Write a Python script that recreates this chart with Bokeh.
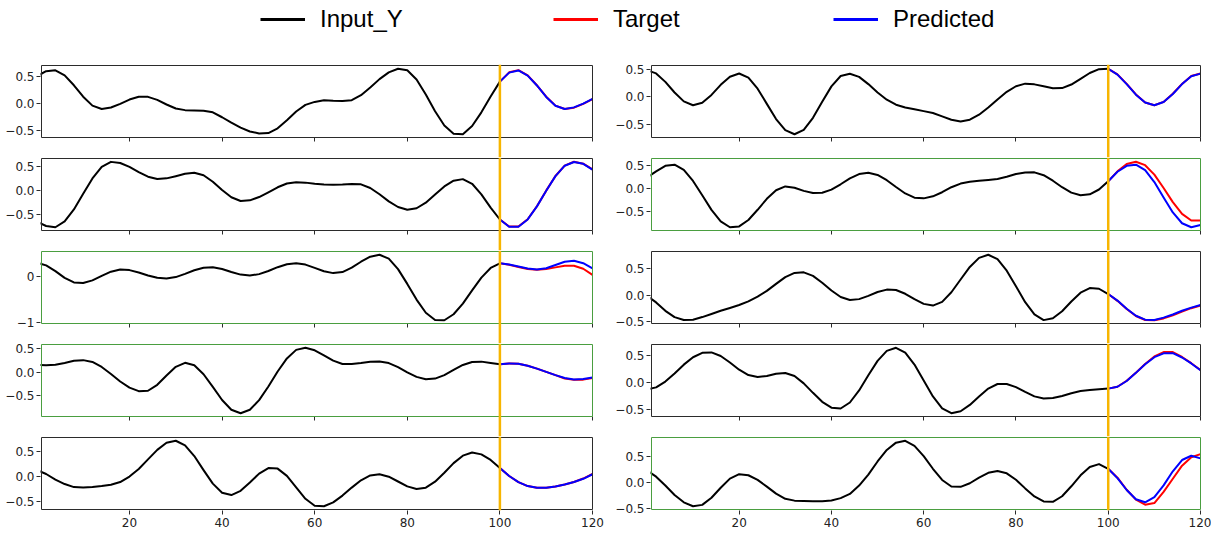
from bokeh.plotting import figure
from bokeh.layouts import column, row
from bokeh.models import (Range1d, FixedTicker, CustomJSTickFormatter, BoxAnnotation,
                          Span, Legend, LegendItem)
from bokeh.core.properties import value
from bokeh.embed import file_html
from bokeh.resources import INLINE

# ---------------- data ----------------
x_in = list(range(0, 101, 2))        # input window
x_out = list(range(100, 121, 2))     # forecast window
x_ticks = [20, 40, 60, 80, 100, 120]
legend_labels = ["Input_Y", "Target", "Predicted"]

l1_input = [0.50, 0.59, 0.606, 0.515, 0.334, 0.125, -0.038, -0.10, -0.073, -0.005, 0.073, 0.123, 0.122, 0.068, -0.017, -0.091, -0.12, -0.125, -0.13, -0.16, -0.25, -0.35, -0.44, -0.51, -0.545, -0.538, -0.452, -0.305, -0.146, -0.025, 0.03, 0.06, 0.05, 0.045, 0.062, 0.153, 0.294, 0.446, 0.57, 0.635, 0.607, 0.44, 0.165, -0.14, -0.40, -0.55, -0.56, -0.41, -0.16, 0.13, 0.40]
l1_target = [0.40, 0.57, 0.61, 0.515, 0.334, 0.125, -0.038, -0.10, -0.075, -0.005, 0.08]
l1_pred = [0.40, 0.565, 0.605, 0.51, 0.33, 0.12, -0.04, -0.10, -0.07, 0.0, 0.085]

l2_input = [-0.66, -0.75, -0.775, -0.655, -0.403, -0.079, 0.243, 0.485, 0.588, 0.565, 0.483, 0.374, 0.279, 0.231, 0.244, 0.29, 0.339, 0.36, 0.309, 0.173, 0.0, -0.151, -0.227, -0.214, -0.146, -0.046, 0.058, 0.136, 0.165, 0.155, 0.13, 0.115, 0.11, 0.115, 0.125, 0.12, 0.043, -0.088, -0.235, -0.353, -0.409, -0.379, -0.263, -0.094, 0.075, 0.195, 0.228, 0.131, -0.09, -0.366, -0.614]
l2_target = [-0.614, -0.761, -0.76, -0.608, -0.338, -0.012, 0.294, 0.511, 0.59, 0.55, 0.43]
l2_pred = [-0.614, -0.765, -0.765, -0.612, -0.34, -0.015, 0.29, 0.508, 0.585, 0.548, 0.428]

l3_input = [0.29, 0.232, 0.109, -0.034, -0.132, -0.145, -0.088, 0.008, 0.098, 0.144, 0.131, 0.081, 0.017, -0.034, -0.049, -0.018, 0.051, 0.128, 0.183, 0.193, 0.156, 0.092, 0.035, 0.015, 0.045, 0.113, 0.194, 0.257, 0.28, 0.25, 0.18, 0.107, 0.067, 0.089, 0.183, 0.311, 0.419, 0.46, 0.379, 0.153, -0.164, -0.501, -0.782, -0.939, -0.943, -0.815, -0.586, -0.304, -0.03, 0.177, 0.276]
l3_target = [0.276, 0.245, 0.20, 0.155, 0.14, 0.155, 0.19, 0.225, 0.225, 0.16, 0.03]
l3_pred = [0.276, 0.25, 0.21, 0.165, 0.145, 0.17, 0.24, 0.31, 0.33, 0.28, 0.17]

l4_input = [0.16, 0.15, 0.16, 0.20, 0.245, 0.26, 0.222, 0.115, -0.034, -0.194, -0.326, -0.40, -0.392, -0.265, -0.066, 0.117, 0.203, 0.15, -0.04, -0.311, -0.589, -0.795, -0.87, -0.797, -0.592, -0.301, 0.018, 0.297, 0.478, 0.523, 0.47, 0.363, 0.249, 0.178, 0.18, 0.20, 0.225, 0.23, 0.198, 0.111, 0.001, -0.096, -0.147, -0.133, -0.058, 0.051, 0.157, 0.221, 0.228, 0.20, 0.17]
l4_target = [0.17, 0.19, 0.185, 0.14, 0.08, 0.01, -0.06, -0.13, -0.16, -0.155, -0.12]
l4_pred = [0.17, 0.19, 0.185, 0.14, 0.08, 0.01, -0.06, -0.12, -0.15, -0.14, -0.11]

l5_input = [0.13, 0.05, -0.06, -0.15, -0.21, -0.22, -0.21, -0.19, -0.165, -0.11, 0.0, 0.15, 0.34, 0.53, 0.67, 0.71, 0.62, 0.407, 0.127, -0.141, -0.322, -0.368, -0.284, -0.118, 0.058, 0.167, 0.157, 0.013, -0.216, -0.442, -0.581, -0.59, -0.514, -0.379, -0.22, -0.075, 0.021, 0.045, -0.003, -0.099, -0.196, -0.248, -0.221, -0.103, 0.076, 0.266, 0.414, 0.478, 0.44, 0.33, 0.17]
l5_target = [0.17, 0.01, -0.11, -0.19, -0.225, -0.225, -0.20, -0.16, -0.11, -0.04, 0.05]
l5_pred = [0.17, 0.01, -0.11, -0.19, -0.225, -0.225, -0.20, -0.16, -0.11, -0.045, 0.045]

r1_input = [0.48, 0.422, 0.27, 0.079, -0.08, -0.15, -0.104, 0.036, 0.216, 0.363, 0.42, 0.347, 0.148, -0.125, -0.398, -0.597, -0.67, -0.591, -0.376, -0.088, 0.189, 0.375, 0.415, 0.36, 0.23, 0.08, -0.05, -0.14, -0.19, -0.22, -0.255, -0.29, -0.35, -0.41, -0.44, -0.409, -0.32, -0.191, -0.045, 0.091, 0.191, 0.238, 0.225, 0.19, 0.155, 0.158, 0.222, 0.324, 0.429, 0.498, 0.505]
r1_target = [0.505, 0.405, 0.233, 0.044, -0.10, -0.15, -0.09, 0.056, 0.233, 0.376, 0.42]
r1_pred = [0.505, 0.40, 0.23, 0.04, -0.10, -0.15, -0.092, 0.052, 0.23, 0.372, 0.418]

r2_input = [0.24, 0.38, 0.50, 0.525, 0.41, 0.168, -0.148, -0.469, -0.721, -0.85, -0.832, -0.69, -0.466, -0.225, -0.036, 0.048, 0.02, -0.05, -0.095, -0.092, -0.023, 0.095, 0.224, 0.319, 0.35, 0.301, 0.185, 0.034, -0.107, -0.20, -0.215, -0.17, -0.08, 0.03, 0.11, 0.15, 0.17, 0.19, 0.21, 0.26, 0.32, 0.355, 0.357, 0.294, 0.173, 0.03, -0.089, -0.147, -0.125, -0.02, 0.16]
r2_target = [0.16, 0.38, 0.54, 0.59, 0.515, 0.307, 0.014, -0.297, -0.556, -0.701, -0.70]
r2_pred = [0.16, 0.37, 0.50, 0.527, 0.406, 0.144, -0.195, -0.525, -0.763, -0.85, -0.80]

r3_input = [-0.01, -0.14, -0.30, -0.42, -0.475, -0.47, -0.42, -0.36, -0.30, -0.245, -0.19, -0.12, -0.03, 0.08, 0.215, 0.344, 0.424, 0.435, 0.366, 0.236, 0.087, -0.036, -0.094, -0.077, -0.015, 0.059, 0.105, 0.097, 0.025, -0.079, -0.168, -0.20, -0.129, 0.054, 0.298, 0.538, 0.711, 0.77, 0.685, 0.467, 0.169, -0.136, -0.37, -0.478, -0.443, -0.308, -0.122, 0.046, 0.134, 0.121, 0.02]
r3_target = [0.02, -0.11, -0.265, -0.40, -0.475, -0.48, -0.445, -0.385, -0.315, -0.25, -0.20]
r3_pred = [0.02, -0.105, -0.26, -0.395, -0.47, -0.475, -0.43, -0.37, -0.30, -0.24, -0.19]

r4_input = [-0.12, -0.082, 0.025, 0.176, 0.338, 0.475, 0.556, 0.564, 0.497, 0.377, 0.245, 0.145, 0.11, 0.13, 0.17, 0.185, 0.128, -0.008, -0.183, -0.349, -0.457, -0.473, -0.362, -0.138, 0.142, 0.408, 0.592, 0.65, 0.559, 0.339, 0.045, -0.249, -0.469, -0.56, -0.523, -0.406, -0.249, -0.104, -0.02, -0.019, -0.077, -0.166, -0.248, -0.289, -0.28, -0.24, -0.19, -0.15, -0.13, -0.115, -0.105]
r4_target = [-0.105, -0.07, 0.04, 0.19, 0.35, 0.49, 0.57, 0.57, 0.48, 0.365, 0.24]
r4_pred = [-0.105, -0.071, 0.036, 0.186, 0.345, 0.476, 0.547, 0.55, 0.47, 0.36, 0.235]

r5_input = [0.23, 0.11, -0.06, -0.24, -0.38, -0.455, -0.429, -0.293, -0.101, 0.073, 0.157, 0.137, 0.048, -0.081, -0.214, -0.314, -0.348, -0.355, -0.36, -0.36, -0.345, -0.30, -0.22, -0.06, 0.15, 0.40, 0.62, 0.76, 0.796, 0.70, 0.502, 0.261, 0.047, -0.078, -0.085, -0.016, 0.09, 0.183, 0.22, 0.174, 0.05, -0.114, -0.267, -0.363, -0.37, -0.264, -0.074, 0.136, 0.295, 0.35, 0.26]
r5_target = [0.26, 0.09, -0.14, -0.33, -0.425, -0.394, -0.18, 0.07, 0.32, 0.48, 0.54]
r5_pred = [0.26, 0.082, -0.145, -0.322, -0.38, -0.282, -0.057, 0.213, 0.428, 0.51, 0.46]

left_green = [False, False, True, True, False]
right_green = [False, True, False, False, True]
left_yticks = [[-0.5, 0, 0.5], [-0.5, 0, 0.5], [-1, 0], [-0.5, 0, 0.5], [-0.5, 0, 0.5]]
right_yticks = [[-0.5, 0, 0.5]] * 5
left_decimals = [1, 1, 0, 1, 1]
right_decimals = [1, 1, 1, 1, 1]

# ---------------- styling ----------------
ORANGE = "#F7B500"
GREEN = "#4A9E40"
DARK = "#2b2b2b"
TICK_FONT = "DejaVu Sans"
TICK_SIZE = "12px"
BOX_H = 72      # visible panel height (px)
GAP_H = 20      # gap below each panel (px) - kept inside the frame
PAD = 1


def y_formatter(decimals):
    return CustomJSTickFormatter(code=f"""
        const s = Math.abs(tick).toFixed({decimals});
        return (tick < -1e-9 ? "\\u2212" : "") + s;
    """)


def make_panel(inp, tgt, prd, green, yticks, decimals, box_w, b_left, b_right, last):
    vals = inp + tgt + prd
    lo0, hi0 = min(vals), max(vals)
    m = 0.05 * (hi0 - lo0)
    lo, hi = lo0 - m, hi0 + m
    s = (hi - lo) / BOX_H
    if last:
        yr = Range1d(lo - PAD * s, hi + PAD * s)
        fh = BOX_H + 2 * PAD
    else:
        yr = Range1d(lo - GAP_H * s, hi + PAD * s)
        fh = PAD + BOX_H + GAP_H
    sx = (x_ticks[-1] - 1) / box_w
    xr = Range1d(1 - PAD * sx, x_ticks[-1] + PAD * sx)

    p = figure(frame_width=box_w + 2 * PAD, frame_height=fh, x_range=xr, y_range=yr,
               output_backend="svg", toolbar_location=None,
               min_border_left=b_left, min_border_right=b_right,
               min_border_top=0, min_border_bottom=0)
    p.outline_line_color = None
    p.xgrid.visible = False
    p.ygrid.visible = False
    p.background_fill_color = "white"
    p.border_fill_color = "white"

    p.line(x_in, inp, line_color="black", line_width=2, line_join="round")
    p.line(x_out, tgt, line_color="red", line_width=2, line_join="round")
    p.line(x_out, prd, line_color="blue", line_width=2, line_join="round")

    box = BoxAnnotation(left=1, right=x_ticks[-1], bottom=lo, top=hi,
                        fill_alpha=0, fill_color=None,
                        line_color=GREEN if green else DARK, line_alpha=1.0, line_width=1)
    p.add_layout(box)
    p.add_layout(Span(location=100, dimension="height", line_color=ORANGE, line_width=2.5))

    ya = p.yaxis[0]
    ya.ticker = FixedTicker(ticks=yticks)
    ya.formatter = y_formatter(decimals)
    ya.axis_line_color = None
    ya.major_tick_in = 0
    ya.major_tick_out = 4
    ya.major_tick_line_color = DARK
    ya.minor_tick_line_color = None
    ya.major_label_text_font = TICK_FONT
    ya.major_label_text_font_size = TICK_SIZE
    ya.major_label_text_color = "#222222"
    ya.major_label_standoff = 2

    xa = p.xaxis[0]
    xa.ticker = FixedTicker(ticks=x_ticks)
    xa.axis_line_color = None
    xa.major_tick_in = 0
    xa.major_tick_out = 4
    xa.major_tick_line_color = DARK
    xa.minor_tick_line_color = None
    xa.major_label_text_font = TICK_FONT
    xa.major_label_text_font_size = TICK_SIZE
    xa.major_label_text_color = "#222222"
    xa.major_label_standoff = 3
    if not last:
        xa.fixed_location = lo
        xa.formatter = CustomJSTickFormatter(code='return "";')
        xa.major_label_text_font_size = "0px"
    return p


left_data = [(l1_input, l1_target, l1_pred), (l2_input, l2_target, l2_pred),
             (l3_input, l3_target, l3_pred), (l4_input, l4_target, l4_pred),
             (l5_input, l5_target, l5_pred)]
right_data = [(r1_input, r1_target, r1_pred), (r2_input, r2_target, r2_pred),
              (r3_input, r3_target, r3_pred), (r4_input, r4_target, r4_pred),
              (r5_input, r5_target, r5_pred)]

left_figs = []
right_figs = []
for k in range(5):
    inp, tgt, prd = left_data[k]
    left_figs.append(make_panel(inp, tgt, prd, left_green[k], left_yticks[k], left_decimals[k],
                                box_w=551, b_left=40, b_right=12, last=(k == 4)))
    inp, tgt, prd = right_data[k]
    right_figs.append(make_panel(inp, tgt, prd, right_green[k], right_yticks[k], right_decimals[k],
                                 box_w=549, b_left=45, b_right=10, last=(k == 4)))

# ---------------- legend strip ----------------
lg = figure(frame_width=1211, frame_height=64, output_backend="svg", toolbar_location=None,
            min_border=0, x_axis_type=None, y_axis_type=None,
            x_range=Range1d(0, 1), y_range=Range1d(0, 1))
lg.outline_line_color = None
lg.background_fill_color = "white"
lg.border_fill_color = "white"
legend_colors = ["black", "red", "blue"]
legend_x = [260, 553, 833]
nan = float("nan")
for lab, col, lx in zip(legend_labels, legend_colors, legend_x):
    r = lg.line(x=[nan, nan], y=[nan, nan], line_color=col, line_width=3)
    leg = Legend(items=[LegendItem(label=value(lab), renderers=[r])],
                 location=(lx, 31), orientation="horizontal",
                 padding=0, margin=0, spacing=0,
                 border_line_color=None, background_fill_alpha=0,
                 glyph_width=45, glyph_height=20, label_standoff=15,
                 label_text_font="Liberation Sans", label_text_font_size="24px",
                 label_text_color="black")
    lg.add_layout(leg)

layout = column(lg, row(column(*left_figs), column(*right_figs)))

with open("out.html", "w", encoding="utf-8") as f:
    f.write(file_html(layout, INLINE, title="Input / Target / Predicted"))
